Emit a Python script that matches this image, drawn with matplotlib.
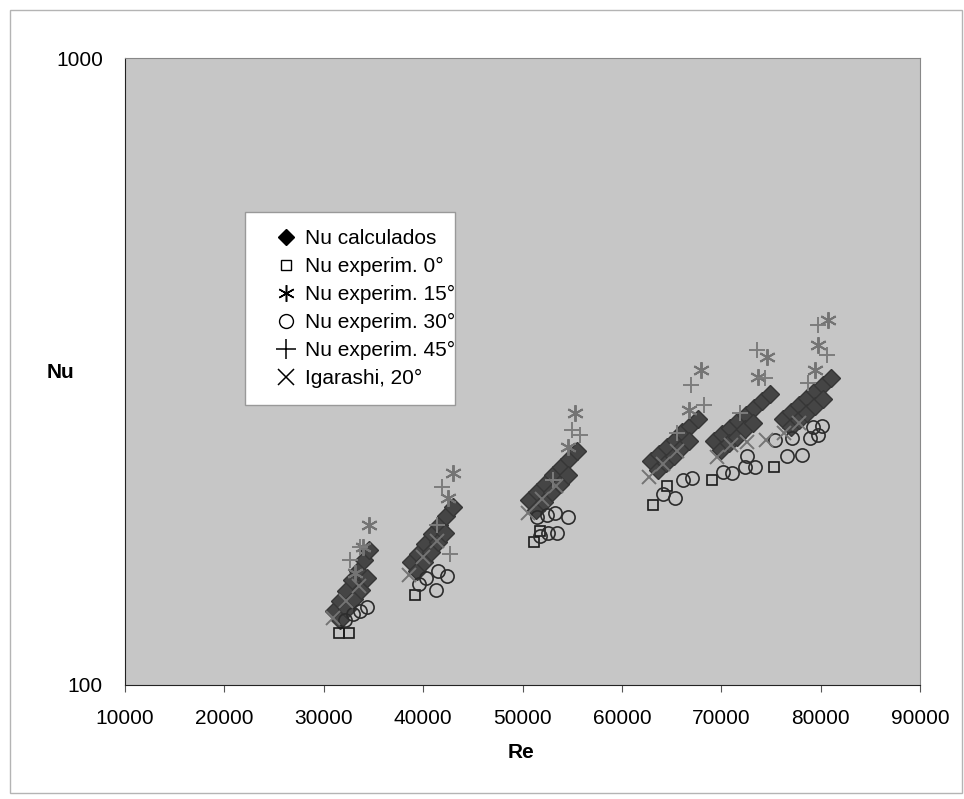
import matplotlib
matplotlib.use("Agg")
import matplotlib.pyplot as plt
from matplotlib.lines import Line2D
from matplotlib.patches import Rectangle

plt.rcParams["font.family"] = ["Liberation Sans", "DejaVu Sans"]

# ---- data (Re, Nu) ----------------------------------------------------------
calc_re = [31000, 31600, 32200, 32800, 33400, 34000, 34600,
           31600, 32300, 33000, 33700, 34400,
           38800, 39500, 40200, 40900, 41600, 42300, 43000,
           39400, 40100, 40800, 41500, 42200,
           50700, 51500, 52300, 53100, 53900, 54700, 55500,
           51400, 52200, 53000, 53800, 54600,
           62900, 63700, 64500, 65300, 66100, 66900, 67700,
           63600, 64400, 65200, 66000, 66800,
           69300, 70100, 70900, 71700, 72500, 73300, 74100, 74900,
           70000, 70800, 71600, 72400, 73200,
           76200, 77000, 77800, 78600, 79400, 80200, 81000,
           77000, 77800, 78600, 79400, 80200]
calc_nu = [131, 136, 141, 147, 152, 158, 164,
           127, 132, 137, 142, 148,
           157, 162, 168, 174, 180, 186, 192,
           152, 157, 163, 169, 175,
           197, 203, 209, 216, 223, 229, 236,
           190, 196, 203, 209, 216,
           228, 234, 240, 246, 253, 259, 266,
           220, 226, 232, 239, 245,
           245, 251, 257, 264, 270, 277, 284, 291,
           237, 243, 249, 256, 262,
           266, 273, 280, 287, 294, 301, 309,
           258, 265, 272, 279, 286]

exp0_re = [31500, 32500, 39200, 51200, 51800, 63100, 64500, 69100, 75300]
exp0_nu = [121, 121, 139, 169, 176, 194, 208, 212, 223]

exp15_re = [33100, 33900, 34600, 42500, 43000, 54600, 55300,
            66800, 68000, 73700, 74600, 79400, 79700, 80700]
exp15_nu = [151, 166, 180, 199, 218, 240, 272,
            275, 318, 310, 334, 318, 349, 382]

exp30_re = [32100, 32900, 33600, 34400,
            39600, 40300, 41300, 41500, 42400,
            51750, 52550, 53460, 51450, 52450, 53260, 54570,
            64120, 65330, 66130, 67040,
            70160, 71060, 72370, 73380, 72570,
            76600, 78100, 78900, 79700, 80100, 79200, 77100, 75400]
exp30_nu = [127, 130, 131, 133,
            145, 148, 142, 152, 149,
            173, 175, 175, 185, 187, 188, 185,
            202, 199, 212, 214,
            219, 218, 223, 223, 232,
            232, 233, 248, 250, 259, 258, 248, 246]

exp45_re = [32600, 33600, 41400, 41900, 42700, 53100, 55000, 55800,
            65500, 67000, 68300, 71900, 73600, 74400, 78700, 79700, 80600]
exp45_nu = [158, 166, 180, 207, 162, 212, 255, 250,
            252, 301, 280, 272, 342, 309, 303, 375, 336]

iga_re = [30900, 32200, 33500, 38600, 40000, 41400, 50600, 52000, 53400,
          62700, 64100, 65500, 69600, 71000, 72600, 74500, 76300, 77800]
iga_nu = [128, 136, 144, 150, 160, 170, 188, 198, 208,
          215, 225, 236, 231, 241, 244, 246, 252, 262]

labels = ["Nu calculados", "Nu experim. 0°", "Nu experim. 15°",
          "Nu experim. 30°", "Nu experim. 45°", "Igarashi, 20°"]

# ---- figure -----------------------------------------------------------------
W, H = 964, 799
fig = plt.figure(figsize=(W / 100, H / 100), dpi=100)
fig.patches.append(Rectangle((10 / W, 6 / H), 952 / W, 783 / H,
                             transform=fig.transFigure, fill=False,
                             edgecolor="#b4b4b4", lw=1.0))
ax = fig.add_axes([125 / W, 1 - 685 / H, 795 / W, 627 / H])
ax.set_facecolor("#c6c6c6")

ax.plot(calc_re, calc_nu, ls="none", marker="D", ms=9.5, color="#454545",
        mec="#363636")
ax.plot(exp0_re, exp0_nu, ls="none", marker="s", ms=7, mfc="none",
        mec="#1a1a1a", mew=1.2)
ax.plot(exp15_re, exp15_nu, ls="none", marker=(6, 2, 0), ms=12,
        color="#747474", mew=1.4)
ax.plot(exp30_re, exp30_nu, ls="none", marker="o", ms=9.5, mfc="none",
        mec="#2c2c2c", mew=1.2)
ax.plot(exp45_re, exp45_nu, ls="none", marker="+", ms=12,
        color="#7c7c7c", mew=1.4)
ax.plot(iga_re, iga_nu, ls="none", marker="x", ms=10,
        color="#747474", mew=1.4)

ax.set_yscale("log")
ax.set_ylim(100, 1000)
ax.set_xlim(10000, 90000)
ax.set_yticks([100, 1000])
ax.set_yticklabels(["100", "1000"])
ax.yaxis.set_minor_locator(matplotlib.ticker.NullLocator())
ax.set_xticks(range(10000, 90001, 10000))
ax.tick_params(labelsize=15, direction="out", length=5, width=0.8,
               color="#555555")
ax.tick_params(axis="y", length=0, pad=16)
ax.tick_params(axis="x", pad=12)
for s in ["left", "bottom"]:
    ax.spines[s].set_color("#222222")
for s in ["top", "right"]:
    ax.spines[s].set_color("#888888")

fig.text(60 / W, 1 - 373 / H, "Nu", fontsize=15, fontweight="bold",
         ha="center", va="center")
fig.text(521 / W, 1 - 752 / H, "Re", fontsize=15, fontweight="bold",
         ha="center", va="center")

# legend box drawn separately (wide left margin as in the original)
fig.patches.append(Rectangle((245 / W, 1 - 405 / H), 210 / W, 193 / H,
                             transform=fig.transFigure, facecolor="white",
                             edgecolor="#999999", lw=1.0, zorder=4))
handles = [
    Line2D([], [], ls="none", marker="D", ms=8.5, color="black"),
    Line2D([], [], ls="none", marker="s", ms=6.5, mfc="none", mec="black", mew=1),
    Line2D([], [], ls="none", marker=(6, 2, 0), ms=12, color="black", mew=1.1),
    Line2D([], [], ls="none", marker="o", ms=10, mfc="none", mec="black", mew=1),
    Line2D([], [], ls="none", marker="+", ms=14, color="black", mew=1.1),
    Line2D([], [], ls="none", marker="x", ms=11, color="black", mew=1.1),
]
leg = fig.legend(handles, labels, loc="upper left",
                 bbox_to_anchor=(254 / W, 1 - 206 / H),
                 fontsize=15, frameon=False, handlelength=0.9,
                 handletextpad=0.45, labelspacing=0.43, borderpad=0.6)
leg.set_zorder(5)

fig.savefig("out.png", dpi=100)
